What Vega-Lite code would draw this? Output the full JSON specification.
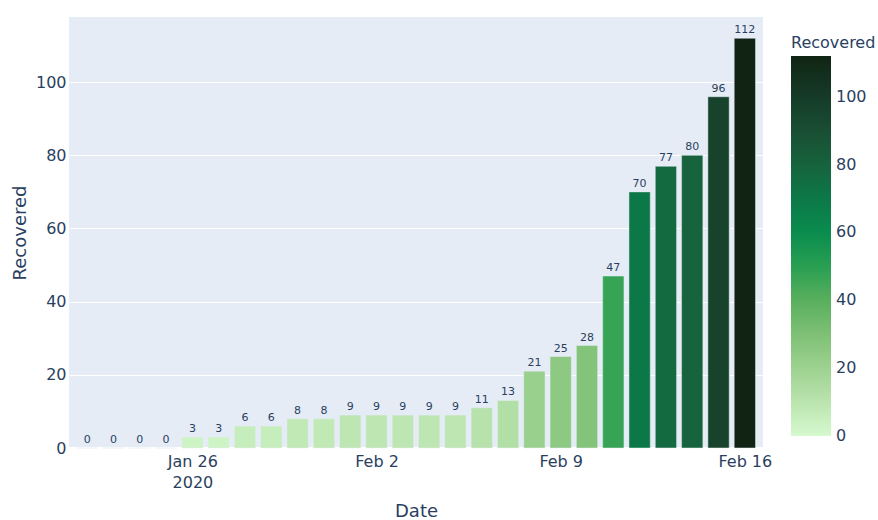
{
  "$schema": "https://vega.github.io/schema/vega-lite/v6.json",
  "width": 694,
  "height": 431,
  "autosize": {"type": "none"},
  "padding": {"left": 69, "top": 17, "right": 115, "bottom": 72},
  "background": "white",
  "config": {
    "view": {"fill": "#E5ECF6", "stroke": null},
    "font": "DejaVu Sans"
  },
  "data": {
    "values": [
      {"Date": "2020-01-22", "Recovered": 0},
      {"Date": "2020-01-23", "Recovered": 0},
      {"Date": "2020-01-24", "Recovered": 0},
      {"Date": "2020-01-25", "Recovered": 0},
      {"Date": "2020-01-26", "Recovered": 3},
      {"Date": "2020-01-27", "Recovered": 3},
      {"Date": "2020-01-28", "Recovered": 6},
      {"Date": "2020-01-29", "Recovered": 6},
      {"Date": "2020-01-30", "Recovered": 8},
      {"Date": "2020-01-31", "Recovered": 8},
      {"Date": "2020-02-01", "Recovered": 9},
      {"Date": "2020-02-02", "Recovered": 9},
      {"Date": "2020-02-03", "Recovered": 9},
      {"Date": "2020-02-04", "Recovered": 9},
      {"Date": "2020-02-05", "Recovered": 9},
      {"Date": "2020-02-06", "Recovered": 11},
      {"Date": "2020-02-07", "Recovered": 13},
      {"Date": "2020-02-08", "Recovered": 21},
      {"Date": "2020-02-09", "Recovered": 25},
      {"Date": "2020-02-10", "Recovered": 28},
      {"Date": "2020-02-11", "Recovered": 47},
      {"Date": "2020-02-12", "Recovered": 70},
      {"Date": "2020-02-13", "Recovered": 77},
      {"Date": "2020-02-14", "Recovered": 80},
      {"Date": "2020-02-15", "Recovered": 96},
      {"Date": "2020-02-16", "Recovered": 112}
    ]
  },
  "encoding": {
    "x": {
      "field": "Date",
      "type": "temporal",
      "scale": {
        "type": "utc",
        "domain": [
          {"year": 2020, "month": 1, "date": 21, "hours": 12, "utc": true},
          {"year": 2020, "month": 2, "date": 16, "hours": 12, "utc": true}
        ]
      },
      "axis": {
        "title": "Date",
        "titleFontSize": 18,
        "titleFontWeight": "normal",
        "titleColor": "#2a3f5f",
        "titlePadding": 12,
        "values": [
          {"year": 2020, "month": 1, "date": 26, "utc": true},
          {"year": 2020, "month": 2, "date": 2, "utc": true},
          {"year": 2020, "month": 2, "date": 9, "utc": true},
          {"year": 2020, "month": 2, "date": 16, "utc": true}
        ],
        "labelExpr": "utcmonth(datum.value) == 0 ? [utcFormat(datum.value, '%b %-d'), '2020'] : utcFormat(datum.value, '%b %-d')",
        "labelFontSize": 16,
        "labelColor": "#2a3f5f",
        "labelPadding": 5,
        "labelLineHeight": 21,
        "labelOverlap": false,
        "labelFlush": false,
        "ticks": false,
        "domain": false,
        "grid": false
      }
    },
    "y": {
      "field": "Recovered",
      "type": "quantitative",
      "scale": {"domain": [0, 117.8], "nice": false, "zero": true},
      "axis": {
        "title": "Recovered",
        "titleFontSize": 18,
        "titleFontWeight": "normal",
        "titleColor": "#2a3f5f",
        "titlePadding": 6,
        "values": [0, 20, 40, 60, 80, 100],
        "labelFontSize": 16,
        "labelColor": "#2a3f5f",
        "labelPadding": 3,
        "ticks": false,
        "domain": false,
        "grid": true,
        "gridColor": "white",
        "gridWidth": 1
      }
    }
  },
  "layer": [
    {
      "mark": {"type": "rule", "color": "white", "strokeWidth": 2},
      "encoding": {
        "y": {"datum": 0, "type": "quantitative"},
        "x": null
      }
    },
    {
      "mark": {"type": "bar", "width": 21.3, "stroke": "#E5ECF6", "strokeWidth": 0.5},
      "encoding": {
        "color": {
          "field": "Recovered",
          "type": "quantitative",
          "scale": {
            "domain": [0, 112],
            "range": ["rgb(214,249,207)", "rgb(186,228,174)", "rgb(156,209,143)", "rgb(124,191,115)", "rgb(85,174,91)", "rgb(37,157,81)", "rgb(7,138,78)", "rgb(13,117,71)", "rgb(23,96,59)", "rgb(25,75,49)", "rgb(20,56,37)", "rgb(17,36,20)"],
            "interpolate": "rgb"
          },
          "legend": {
            "title": "Recovered",
            "orient": "none",
            "legendX": 722,
            "legendY": 18,
            "direction": "vertical",
            "gradientLength": 380,
            "gradientThickness": 40,
            "gradientStrokeWidth": 0,
            "titleFontSize": 16,
            "titleFontWeight": "normal",
            "titleColor": "#2a3f5f",
            "titlePadding": 5,
            "values": [0, 20, 40, 60, 80, 100],
            "labelFontSize": 16,
            "labelColor": "#2a3f5f",
            "labelOffset": 5,
            "labelBaseline": "middle",
            "labelOverlap": false,
            "encode": {
              "labels": {
                "update": {"baseline": {"value": "middle"}}
              }
            }
          }
        }
      }
    },
    {
      "mark": {"type": "text", "baseline": "alphabetic", "dy": -5, "fontSize": 11, "color": "#2a3f5f"},
      "encoding": {
        "text": {"field": "Recovered", "type": "quantitative"}
      }
    }
  ]
}
